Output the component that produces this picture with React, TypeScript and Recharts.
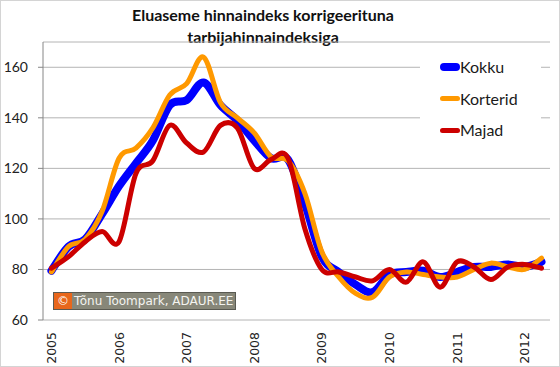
import React from 'react';
import { LineChart, Line, XAxis, YAxis, CartesianGrid } from 'recharts';

// quarterly values, 2005 Q1 .. 2012 Q2
const yearLabels = ['2005', '2006', '2007', '2008', '2009', '2010', '2011', '2012'];
const kokku = [79.5, 89, 92, 102, 113, 122, 131, 145, 147, 154, 145, 139, 131, 124, 123.5, 106, 85, 79, 74, 71, 78, 79, 79.5, 77, 79, 81, 81, 82, 81, 83];
const korterid = [79, 89, 92, 103, 124, 128, 136, 149, 153.5, 164, 146, 140, 134, 124.5, 123, 110, 87, 77, 70.5, 69, 77, 79, 78, 77, 77, 80, 82.5, 81, 80, 84.5];
const majad = [80.5, 85, 91, 95, 91, 118, 123, 137, 130, 126.5, 137, 136, 120, 123.5, 124, 96, 80, 79, 77, 75.5, 80, 75, 83, 73, 83, 81, 76, 81, 82, 80.5];
const yTicks = [60, 80, 100, 120, 140, 160];

const series = [
  { key: 'kokku', name: 'Kokku', color: '#0000ff', width: 8 },
  { key: 'korterid', name: 'Korterid', color: '#ff9900', width: 5 },
  { key: 'majad', name: 'Majad', color: '#cc0000', width: 5 },
];

const data = kokku.map((v, i) => ({ x: i + 0.5, kokku: v, korterid: korterid[i], majad: majad[i] }));
const boundaryTicks = Array.from({ length: kokku.length + 1 }, (_, i) => i);
const yearTicks = yearLabels.map((_, i) => i * 4 + 0.5);

// Excel-like smoothing (Catmull-Rom through the points)
const smooth = (ctx: any) => {
  let pts: number[][] = [];
  return {
    areaStart() {},
    areaEnd() {},
    lineStart() { pts = []; },
    lineEnd() {
      if (!pts.length) return;
      ctx.moveTo(pts[0][0], pts[0][1]);
      for (let i = 0; i < pts.length - 1; i++) {
        const p0 = pts[i - 1] || pts[i];
        const p1 = pts[i];
        const p2 = pts[i + 1];
        const p3 = pts[i + 2] || p2;
        ctx.bezierCurveTo(
          p1[0] + (p2[0] - p0[0]) / 6, p1[1] + (p2[1] - p0[1]) / 6,
          p2[0] - (p3[0] - p1[0]) / 6, p2[1] - (p3[1] - p1[1]) / 6,
          p2[0], p2[1]
        );
      }
    },
    point(x: number, y: number) { pts.push([+x, +y]); },
  };
};

const YearTick = (props: any) => {
  const { x, y, payload } = props;
  const idx = yearTicks.indexOf(payload.value);
  return (
    <text x={x} y={y + 10} transform={`rotate(-90 ${x} ${y + 10})`} textAnchor="end" dominantBaseline="central"
      fontFamily="DejaVu Sans" fontSize={12.5} fill="#222">
      {yearLabels[idx]}
    </text>
  );
};

export default function App() {
  return (
    <div style={{ position: 'absolute', left: 0, top: 0, width: 560, height: 367, boxSizing: 'border-box', border: '1px solid #d4d4d4', background: '#fff' }}>
      <div style={{ position: 'absolute', left: 0, top: 3, width: 524, textAlign: 'center', fontFamily: 'Lato', fontWeight: 'bold', fontSize: 16, lineHeight: '22px', color: '#111' }}>
        Eluaseme hinnaindeks korrigeerituna<br />tarbijahinnaindeksiga
      </div>
      <div style={{ position: 'absolute', left: -1, top: -1 }}>
        <LineChart width={560} height={367} data={data} margin={{ top: 42, right: 10, left: 0, bottom: 0 }}>
          <CartesianGrid vertical={false} stroke="#b4b4b4" />
          <XAxis xAxisId="b" dataKey="x" type="number" domain={[0, 30]} ticks={boundaryTicks} height={0}
            axisLine={{ stroke: '#868686' }} tickLine={{ stroke: '#868686' }} tickSize={5} tick={() => <g />} interval={0} />
          <XAxis xAxisId="y" dataKey="x" type="number" domain={[0, 30]} ticks={yearTicks} height={47}
            axisLine={false} tickLine={false} tickSize={0} tick={<YearTick />} interval={0} />
          <YAxis domain={[60, 170]} ticks={yTicks} width={43} axisLine={{ stroke: '#868686' }} tickLine={{ stroke: '#868686' }}
            tickSize={5} tickMargin={10} tick={{ fontFamily: 'Lato', fontSize: 14, fill: '#222' }} interval={0} />
          {series.map((s) => (
            <Line key={s.key} xAxisId="b" dataKey={s.key} name={s.name} stroke={s.color} strokeWidth={s.width}
              type={smooth as any} dot={false} isAnimationActive={false} strokeLinecap="round" />
          ))}
        </LineChart>
      </div>
      <div style={{ position: 'absolute', left: 419, top: 49, width: 121, height: 100, background: '#fff' }}>
        {series.map((s, i) => (
          <div key={s.key} style={{ position: 'absolute', left: 20, top: 5 + i * 31.5, height: 24, display: 'flex', alignItems: 'center' }}>
            <div style={{ width: 20, height: s.width, background: s.color, borderRadius: s.width / 2 }} />
            <span style={{ fontFamily: 'Lato', fontSize: 16, color: '#1a1a1a', lineHeight: '24px' }}>{s.name}</span>
          </div>
        ))}
      </div>
      <div style={{ position: 'absolute', left: 52, top: 291, height: 16, display: 'flex', border: '1px solid #5a5a52', background: '#878779', fontFamily: 'DejaVu Sans', fontSize: 12, color: '#f4f4f0', lineHeight: '16px' }}>
        <span style={{ background: '#e8671c', width: 18, textAlign: 'center', color: '#fff' }}>©</span>
        <span style={{ padding: '0 2px 0 2px' }}>Tõnu Toompark, ADAUR.EE</span>
      </div>
    </div>
  );
}
